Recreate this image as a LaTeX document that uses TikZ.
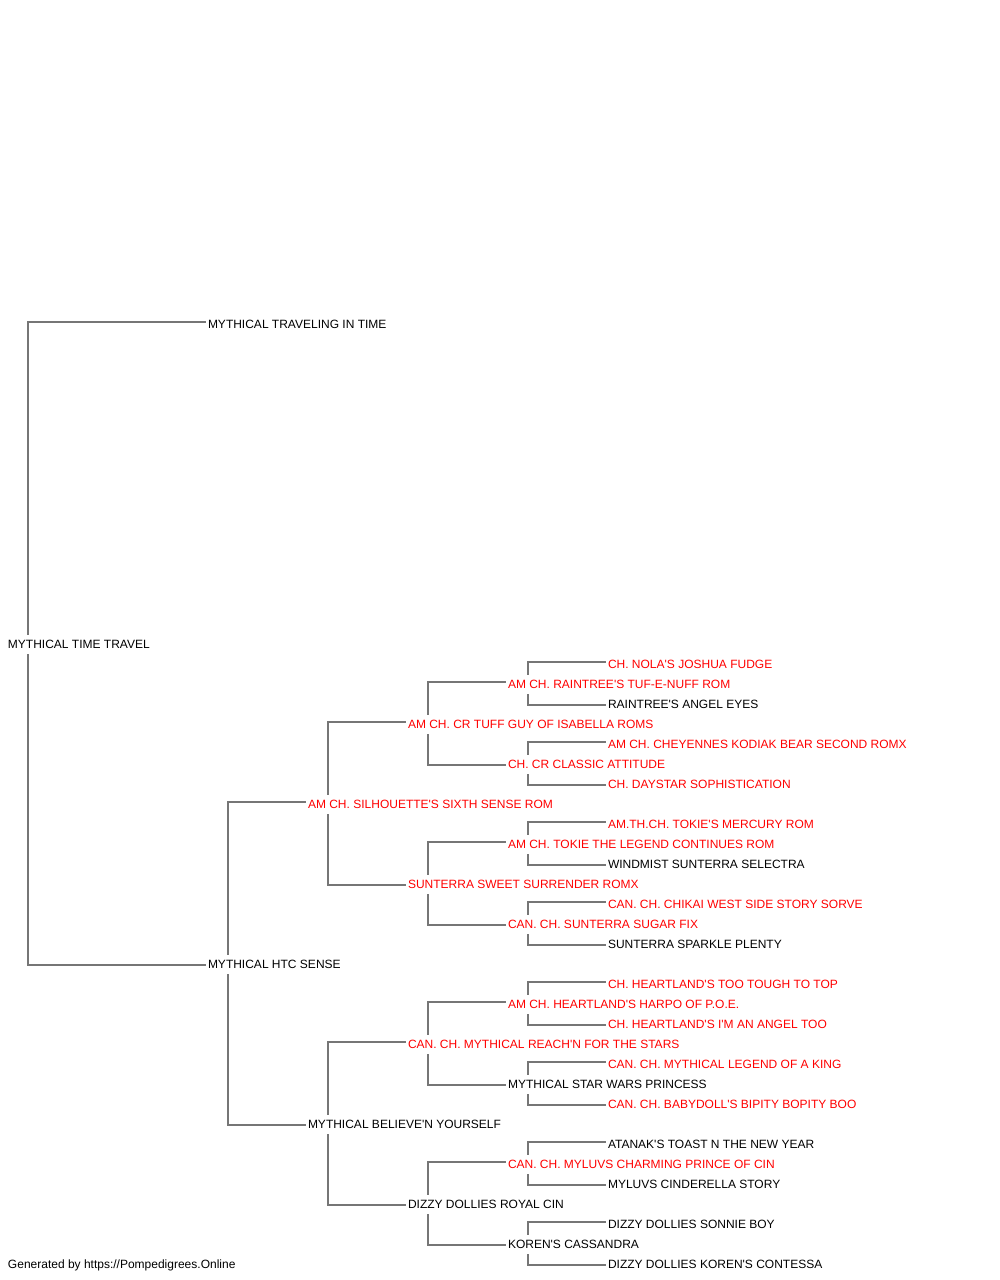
\documentclass[tikz,border=0pt]{standalone}
\usepackage{fontspec}
\setmainfont{Liberation Sans}[Ligatures=TeXOff]
\usetikzlibrary{backgrounds}
\definecolor{pedred}{RGB}{255,0,0}
\definecolor{linegray}{RGB}{118,118,118}
\tikzset{
  dog/.style={anchor=west, inner xsep=2pt, inner ysep=3.5pt, outer sep=0pt, fill=white,
    text height=10pt, text depth=2pt, font=\fontsize{12}{14}\selectfont},
  champ/.style={dog, text=pedred},
  link/.style={draw=linegray, line width=1.3pt},
}
\newcommand{\pedlink}[3]{\draw[link] ([yshift=2pt]#2.west) -| ([xshift=22pt]#1.west) |- ([yshift=-1pt]#3.west);}
\begin{document}
\begin{tikzpicture}[x=1pt,y=-1pt]
\useasboundingbox (0,0) rectangle (1000,1280);
% generation 0
\node[dog] (a) at (6,644) {MYTHICAL TIME TRAVEL};
% generation 1
\node[dog] (a1) at (206,324) {MYTHICAL TRAVELING IN TIME};
\node[dog] (a2) at (206,964) {MYTHICAL HTC SENSE};
% generation 2
\node[champ] (a21) at (306,804) {AM CH. SILHOUETTE'S SIXTH SENSE ROM};
\node[dog] (a22) at (306,1124) {MYTHICAL BELIEVE'N YOURSELF};
% generation 3
\node[champ] (a211) at (406,724) {AM CH. CR TUFF GUY OF ISABELLA ROMS};
\node[champ] (a212) at (406,884) {SUNTERRA SWEET SURRENDER ROMX};
\node[champ] (a221) at (406,1044) {CAN. CH. MYTHICAL REACH'N FOR THE STARS};
\node[dog] (a222) at (406,1204) {DIZZY DOLLIES ROYAL CIN};
% generation 4
\node[champ] (a2111) at (506,684) {AM CH. RAINTREE'S TUF-E-NUFF ROM};
\node[champ] (a2112) at (506,764) {CH. CR CLASSIC ATTITUDE};
\node[champ] (a2121) at (506,844) {AM CH. TOKIE THE LEGEND CONTINUES ROM};
\node[champ] (a2122) at (506,924) {CAN. CH. SUNTERRA SUGAR FIX};
\node[champ] (a2211) at (506,1004) {AM CH. HEARTLAND'S HARPO OF P.O.E.};
\node[dog] (a2212) at (506,1084) {MYTHICAL STAR WARS PRINCESS};
\node[champ] (a2221) at (506,1164) {CAN. CH. MYLUVS CHARMING PRINCE OF CIN};
\node[dog] (a2222) at (506,1244) {KOREN'S CASSANDRA};
% generation 5
\node[champ] (a21111) at (606,664) {CH. NOLA'S JOSHUA FUDGE};
\node[dog] (a21112) at (606,704) {RAINTREE'S ANGEL EYES};
\node[champ] (a21121) at (606,744) {AM CH. CHEYENNES KODIAK BEAR SECOND ROMX};
\node[champ] (a21122) at (606,784) {CH. DAYSTAR SOPHISTICATION};
\node[champ] (a21211) at (606,824) {AM.TH.CH. TOKIE'S MERCURY ROM};
\node[dog] (a21212) at (606,864) {WINDMIST SUNTERRA SELECTRA};
\node[champ] (a21221) at (606,904) {CAN. CH. CHIKAI WEST SIDE STORY SORVE};
\node[dog] (a21222) at (606,944) {SUNTERRA SPARKLE PLENTY};
\node[champ] (a22111) at (606,984) {CH. HEARTLAND'S TOO TOUGH TO TOP};
\node[champ] (a22112) at (606,1024) {CH. HEARTLAND'S I'M AN ANGEL TOO};
\node[champ] (a22121) at (606,1064) {CAN. CH. MYTHICAL LEGEND OF A KING};
\node[champ] (a22122) at (606,1104) {CAN. CH. BABYDOLL'S BIPITY BOPITY BOO};
\node[dog] (a22211) at (606,1144) {ATANAK'S TOAST N THE NEW YEAR};
\node[dog] (a22212) at (606,1184) {MYLUVS CINDERELLA STORY};
\node[dog] (a22221) at (606,1224) {DIZZY DOLLIES SONNIE BOY};
\node[dog] (a22222) at (606,1264) {DIZZY DOLLIES KOREN'S CONTESSA};
% footer
\node[dog] (foot) at (6,1264) {Generated by https://Pompedigrees.Online};
% connectors
\begin{scope}[on background layer]
\pedlink{a}{a1}{a2}
\pedlink{a2}{a21}{a22}
\pedlink{a21}{a211}{a212}
\pedlink{a22}{a221}{a222}
\pedlink{a211}{a2111}{a2112}
\pedlink{a212}{a2121}{a2122}
\pedlink{a221}{a2211}{a2212}
\pedlink{a222}{a2221}{a2222}
\pedlink{a2111}{a21111}{a21112}
\pedlink{a2112}{a21121}{a21122}
\pedlink{a2121}{a21211}{a21212}
\pedlink{a2122}{a21221}{a21222}
\pedlink{a2211}{a22111}{a22112}
\pedlink{a2212}{a22121}{a22122}
\pedlink{a2221}{a22211}{a22212}
\pedlink{a2222}{a22221}{a22222}
\end{scope}
\end{tikzpicture}
\end{document}
